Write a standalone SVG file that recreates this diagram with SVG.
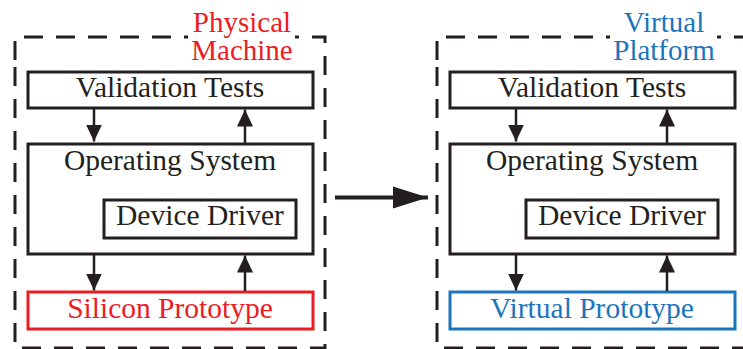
<svg xmlns="http://www.w3.org/2000/svg" width="743" height="349" viewBox="0 0 743 349">
<style>
.frame{fill:none;stroke:#231f20;stroke-width:3;stroke-dasharray:19 13}
.box{fill:#fff;stroke:#231f20;stroke-width:3}
.t{font-family:"Liberation Serif","Times New Roman",serif;font-size:29.5px;fill:#231f20;text-anchor:middle}
.l{font-size:29px}
.red{fill:#ec1c24}
.blue{fill:#1c75bc}
.lbl{fill:#fff;stroke:none}
.conn{stroke:#231f20;stroke-width:2.5;fill:none}
.big{stroke:#231f20;stroke-width:4;fill:none}
</style>
<defs>
<marker id="ah" markerUnits="userSpaceOnUse" markerWidth="17" markerHeight="16" refX="17" refY="8" orient="auto">
<path d="M0,0 L17,8 L0,16 Z" fill="#231f20"/>
</marker>
<marker id="bh" markerUnits="userSpaceOnUse" markerWidth="36" markerHeight="24" refX="35" refY="12" orient="auto">
<path d="M0,1 L35,12 L0,23 Z" fill="#231f20"/>
</marker>
</defs>
<rect width="743" height="349" fill="#fff"/>
<g id="physical-machine">
<path class="frame" d="M15,60 L15,37 L325,37 L325,348 L15,348 Z"/>
<rect class="lbl" x="188" y="28" width="107" height="16"/>
<text class="t l red" x="242" y="32">Physical</text>
<text class="t l red" x="242" y="60">Machine</text>
</g>
<g id="virtual-platform">
<path class="frame" d="M437,60 L437,37 L747,37 L747,348 L437,348 Z"/>
<rect class="lbl" x="610" y="28" width="107" height="16"/>
<text class="t l blue" x="664" y="32">Virtual</text>
<text class="t l blue" x="664" y="60">Platform</text>
</g>
<g id="pm-validation-tests">
<rect class="box" x="28" y="72" width="285" height="36"/>
<text class="t" x="170" y="97">Validation Tests</text>
</g>
<g id="pm-operating-system">
<rect class="box" x="28" y="144" width="285" height="110"/>
<text class="t" x="170" y="170">Operating System</text>
</g>
<g id="pm-device-driver">
<rect class="box" x="104" y="200" width="192" height="38"/>
<text class="t" x="200" y="225">Device Driver</text>
</g>
<g id="pm-silicon-prototype">
<rect class="box" x="28" y="292" width="285" height="37" style="stroke:#ec1c24"/>
<text class="t red" x="170" y="318">Silicon Prototype</text>
</g>
<g id="vp-validation-tests">
<rect class="box" x="450" y="72" width="285" height="36"/>
<text class="t" x="592" y="97">Validation Tests</text>
</g>
<g id="vp-operating-system">
<rect class="box" x="450" y="144" width="285" height="110"/>
<text class="t" x="592" y="170">Operating System</text>
</g>
<g id="vp-device-driver">
<rect class="box" x="526" y="200" width="192" height="38"/>
<text class="t" x="622" y="225">Device Driver</text>
</g>
<g id="vp-virtual-prototype">
<rect class="box" x="450" y="292" width="285" height="37" style="stroke:#1c75bc"/>
<text class="t blue" x="592" y="318">Virtual Prototype</text>
</g>
<g id="connectors">
<line class="conn" x1="94" y1="108" x2="94" y2="141.5" marker-end="url(#ah)"/>
<line class="conn" x1="245" y1="143" x2="245" y2="109.5" marker-end="url(#ah)"/>
<line class="conn" x1="94" y1="254" x2="94" y2="290.5" marker-end="url(#ah)"/>
<line class="conn" x1="245" y1="291" x2="245" y2="255.5" marker-end="url(#ah)"/>
<line class="conn" x1="516" y1="108" x2="516" y2="141.5" marker-end="url(#ah)"/>
<line class="conn" x1="667" y1="143" x2="667" y2="109.5" marker-end="url(#ah)"/>
<line class="conn" x1="516" y1="254" x2="516" y2="290.5" marker-end="url(#ah)"/>
<line class="conn" x1="667" y1="291" x2="667" y2="255.5" marker-end="url(#ah)"/>
<line class="big" x1="335" y1="197.5" x2="428" y2="197.5" marker-end="url(#bh)"/>
</g>
</svg>
